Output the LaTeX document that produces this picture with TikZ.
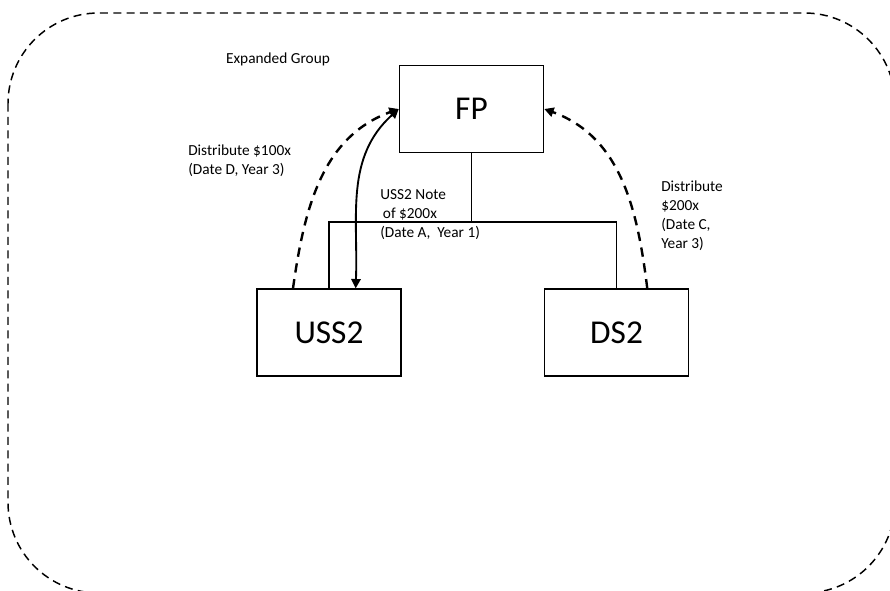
\documentclass[tikz,border=0pt]{standalone}
\usepackage{fontspec}
\setmainfont{Carlito}
\usetikzlibrary{arrows.meta,positioning}

\begin{document}
\begin{tikzpicture}[x=0.75pt, y=-0.75pt,
      entity/.style={draw, line width=1.2pt, minimum width=108pt, minimum height=65pt,
        inner sep=0pt, font=\fontsize{25}{30}\selectfont},
      note/.style={inner sep=0pt, align=left, font=\fontsize{11.5}{14.3}\selectfont},
      link/.style={line width=1pt},
      flow/.style={-{Triangle[length=7pt,width=7pt]}, line width=1.8pt, dash pattern=on 7pt off 5pt},
      loan/.style={{Triangle[length=7pt,width=7pt]}-{Triangle[length=7pt,width=7pt]}, line width=1.4pt}]
    \clip (0,0) rectangle (890,591);
    % group boundary
    \draw[line width=1.1pt, dash pattern=on 6pt off 4pt, rounded corners=68pt] (8,13) rectangle (895,593);
    \node[note] (grp) at (278,59) {Expanded Group};

    \node[entity] (fp) at (471.5,109) {FP};
    \node[entity] (uss) at (329,332.5) {USS2};
    \node[entity, right=106.5pt of uss] (ds) {DS2};

    % ownership lines
    \draw[link] (fp.south) -- ++(0,69) coordinate (bar);
    \draw[link] (uss.north) |- (bar) -| (ds.north);

    % distributions and the note
    \draw[flow] ([xshift=-27pt]uss.north) to[out=82, in=200] (fp.west);
    \draw[flow] ([xshift=23pt]ds.north) to[out=97, in=-20] (fp.east);
    \draw[loan] ([xshift=20pt]uss.north) to[out=88, in=222] (fp.west);

    \node[note, anchor=west] (d100) at (188,161) {Distribute \$100x\\(Date D, Year 3)};
    \node[note, anchor=west] (usnote) at (380,214.5) {USS2 Note\\\hspace*{2pt}of \$200x\\(Date A,\ \ Year 1)};
    \node[note, anchor=west] (d200) at (661,215.5) {Distribute\\\$200x\\(Date C,\\Year 3)};
  \end{tikzpicture}
\end{document}
